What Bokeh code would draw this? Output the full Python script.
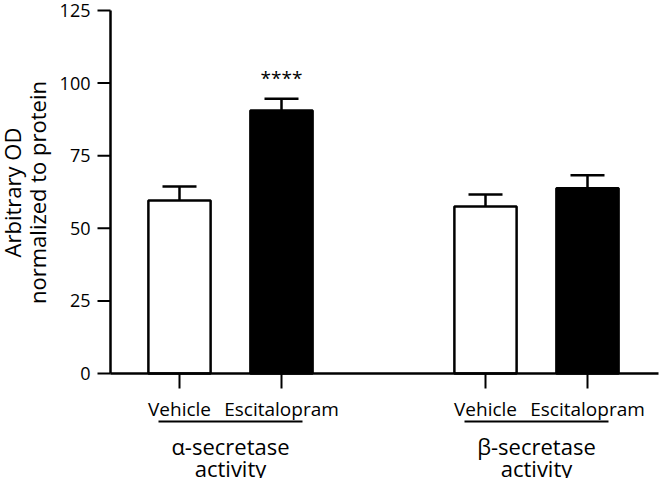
from math import pi
from bokeh.plotting import figure
from bokeh.models import Range1d, ColumnDataSource
from bokeh.core.properties import value
from bokeh.embed import file_html
from bokeh.resources import INLINE

# ---------------- data ----------------
group_names = ["α-secretase", "β-secretase"]
group_second_line = ["activity", "activity"]
categories = ["Vehicle", "Escitalopram", "Vehicle", "Escitalopram"]
positions = [1, 2, 4, 5]
means = [59.6, 90.6, 57.5, 63.8]
sems = [4.8, 4.0, 4.1, 4.5]
fills = ["white", "black", "white", "black"]
significance = ["", "****", "", ""]
y_ticks = [0, 25, 50, 75, 100, 125]
y_tick_labels = ["0", "25", "50", "75", "100", "125"]
y_label_lines = ["Arbitrary OD", "normalized to protein"]

# ---------------- layout (picture pixels) ----------------
W, H = 660, 478
X_PX = 102.0          # px per x unit
X1_PIX = 179.0        # pixel x of position 1
Y0_PIX = 373.0        # pixel y of value 0
YTOP_PIX = 10.0       # pixel y of top tick
PXY = (Y0_PIX - YTOP_PIX) / y_ticks[-1]
AXIS_X = 110
AXIS_END = 658


def dx(px):
    return 1 + (px - X1_PIX) / X_PX


def dy(py):
    return (Y0_PIX - py) / PXY


p = figure(width=W, height=H, x_range=Range1d(dx(0), dx(W)),
           y_range=Range1d(dy(H), dy(0)),
           output_backend="svg", toolbar_location=None,
           x_axis_type=None, y_axis_type=None,
           min_border_left=0, min_border_right=0,
           min_border_top=0, min_border_bottom=0)
p.outline_line_color = None
p.grid.visible = False
p.background_fill_color = "white"
p.border_fill_color = "white"

FONT = value("Open Sans")
BLACK = "black"

# ----- y axis -----
p.segment(x0=[dx(AXIS_X)], y0=[y_ticks[0]], x1=[dx(AXIS_X)], y1=[y_ticks[-1]],
          line_color=BLACK, line_width=2.5)
p.segment(x0=dx(97), y0=y_ticks, x1=dx(AXIS_X), y1=y_ticks,
          line_color=BLACK, line_width=2)
p.text(x=dx(90), y=y_ticks, text=y_tick_labels, text_align="right",
       text_baseline="middle", text_font=FONT, text_font_size=value("18px"),
       text_color=BLACK)

# y axis title (two rotated lines)
p.text(x=[dx(11), dx(36)], y=[dy(192)] * 2, text=y_label_lines, angle=pi / 2,
       text_align="center", text_baseline="alphabetic", text_font=FONT,
       text_font_size=value("22px"), text_color=BLACK)

uppers = [m + s for m, s in zip(means, sems)]
CAP = 17 / X_PX
src = ColumnDataSource(dict(
    x=positions, top=means, upper=uppers, fill=fills,
    cap0=[x - CAP for x in positions], cap1=[x + CAP for x in positions],
    sig=significance, sig_y=[u + 21 / PXY for u in uppers],
    cat=categories,
))

# error bars (upper only)
p.segment(x0="x", y0="top", x1="x", y1="upper", line_color=BLACK, line_width=2.5, source=src)
p.segment(x0="cap0", y0="upper", x1="cap1", y1="upper", line_color=BLACK, line_width=2.5, source=src)

# bars
p.vbar(x="x", top="top", bottom=0, width=0.61, fill_color="fill",
       line_color=BLACK, line_width=2.5, source=src)

# ----- x axis -----
p.segment(x0=[dx(AXIS_X)], y0=[0], x1=[dx(AXIS_END)], y1=[0], line_color=BLACK, line_width=2.5)
p.segment(x0="x", y0=0, x1="x", y1=dy(388), line_color=BLACK, line_width=2, source=src)

# category labels
p.text(x="x", y=dy(408), text="cat", source=src, text_align="center",
       text_baseline="alphabetic", text_font=FONT,
       text_font_size=value("19px"), text_color=BLACK)

# significance
p.text(x="x", y="sig_y", text="sig", source=src, text_align="center",
       text_baseline="alphabetic", text_font=FONT,
       text_font_size=value("19px"), text_color=BLACK)

# group labels
gcent = [(positions[0] + positions[1]) / 2, (positions[2] + positions[3]) / 2]
HW = 72 / X_PX
p.segment(x0=[g - HW for g in gcent], y0=dy(421), x1=[g + HW for g in gcent], y1=dy(421),
          line_color=BLACK, line_width=2)
p.text(x=gcent, y=[dy(445)] * 2, text=group_names, text_align="center",
       text_baseline="alphabetic", text_font=FONT,
       text_font_size=value("22px"), text_color=BLACK)
p.text(x=gcent, y=[dy(467)] * 2, text=group_second_line, text_align="center",
       text_baseline="alphabetic", text_font=FONT,
       text_font_size=value("22px"), text_color=BLACK)

open("out.html", "w").write(file_html(p, INLINE))
